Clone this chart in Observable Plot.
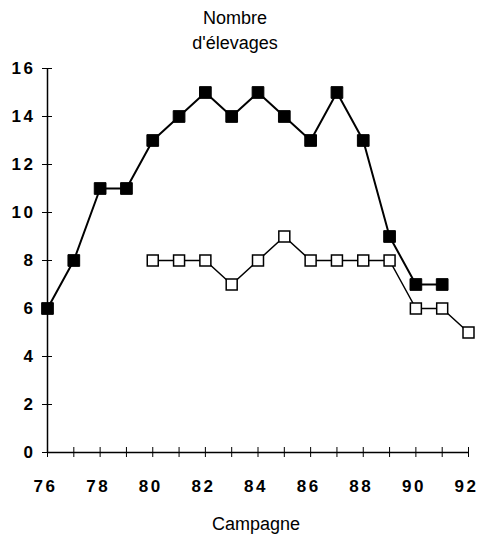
<!DOCTYPE html>
<html><head><meta charset="utf-8">
<script src="https://cdn.jsdelivr.net/npm/d3@7"></script>
<script src="https://cdn.jsdelivr.net/npm/@observablehq/plot@0.6"></script>
<style>
body{margin:0;background:#fff;font-family:"Liberation Sans",Arial,sans-serif;color:#000;width:478px;height:535px;overflow:hidden}
#title{height:56px;box-sizing:border-box;padding-top:6px;font-size:18px;line-height:25px;text-align:center;width:478px;position:relative;left:-4px}
#cap{height:35px;box-sizing:border-box;padding-top:14px;font-size:18px;line-height:20px;text-align:center;width:478px;position:relative;left:17px}
#chart svg{display:block}
#chart g[aria-label="x-axis tick label"] text, #chart g[aria-label="y-axis tick label"] text{letter-spacing:2.5px}
</style>
</head><body>
<div id="title">Nombre<br>d'élevages</div>
<div id="chart"></div>
<div id="cap">Campagne</div>
<script>
const yearsFilled = [76,77,78,79,80,81,82,83,84,85,86,87,88,89,90,91];
const valuesFilled = [6,8,11,11,13,14,15,14,15,14,13,15,13,9,7,7];
const yearsOpen = [80,81,82,83,84,85,86,87,88,89,90,91,92];
const valuesOpen = [8,8,8,7,8,9,8,8,8,8,6,6,5];
const xTickValues = [76,77,78,79,80,81,82,83,84,85,86,87,88,89,90,91,92];
const xTickLabels = [76,78,80,82,84,86,88,90,92];
const yTickValues = [0,2,4,6,8,10,12,14,16];

const filled = yearsFilled.map((y,i)=>({year:y, value:valuesFilled[i]}));
const open = yearsOpen.map((y,i)=>({year:y, value:valuesOpen[i]}));

const chart = Plot.plot({
  width:478, height:444,
  marginTop:12, marginBottom:48, marginLeft:47, marginRight:10,
  style:{fontFamily:"'Liberation Sans', Arial, sans-serif", background:"white", color:"black"},
  x:{domain:[76,92]},
  y:{domain:[0,16]},
  marks:[
    Plot.ruleX([76],{stroke:"black", strokeWidth:1.5}),
    Plot.ruleY([0],{stroke:"black", strokeWidth:1.5}),
    Plot.axisX({ticks:xTickValues, tickSize:5, tickFormat:()=>"", label:null, stroke:"black", strokeOpacity:1}),
    Plot.axisX({ticks:xTickValues, tickSize:-5, tickFormat:()=>"", label:null, stroke:"black", strokeOpacity:1}),
    Plot.axisX({ticks:xTickLabels, tickSize:0, tickPadding:27, dx:-2, fontSize:17, fontWeight:"bold", label:null, fill:"black"}),
    Plot.axisY({ticks:yTickValues, tickSize:5, tickFormat:()=>"", label:null, stroke:"black", strokeOpacity:1}),
    Plot.axisY({ticks:yTickValues, tickSize:-5, tickFormat:()=>"", label:null, stroke:"black", strokeOpacity:1}),
    Plot.axisY({ticks:yTickValues, tickSize:0, tickPadding:12, fontSize:17, fontWeight:"bold", label:null, fill:"black"}),
    Plot.line(filled,{x:"year", y:"value", stroke:"black", strokeWidth:2}),
    Plot.line(open,{x:"year", y:"value", stroke:"black", strokeWidth:1.5}),
    Plot.dot(filled,{x:"year", y:"value", symbol:"square", r:6.6, fill:"black", stroke:"black", strokeWidth:1}),
    Plot.dot(open,{x:"year", y:"value", symbol:"square", r:6.2, fill:"white", stroke:"black", strokeWidth:1.5})
  ]
});
document.getElementById("chart").appendChild(chart);
</script>
</body></html>
